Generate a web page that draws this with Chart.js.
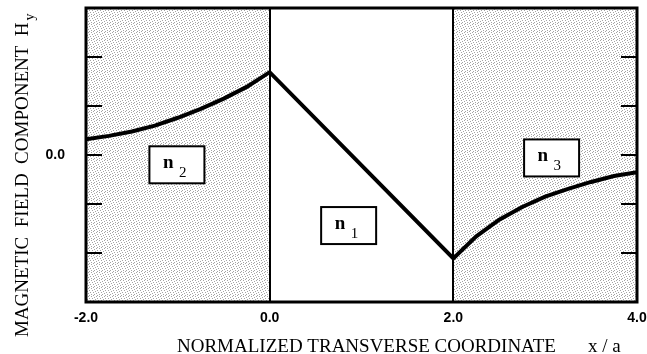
<!DOCTYPE html>
<html>
<head>
<meta charset="utf-8">
<script src="https://cdn.jsdelivr.net/npm/chart.js@4/dist/chart.umd.min.js"></script>
<style>
  html, body { margin: 0; padding: 0; background: #fff; }
  #wrap { width: 647px; height: 354px; }
</style>
</head>
<body>
<div id="wrap"><canvas id="field"></canvas></div>
<script>
// Hy across the three-layer slab guide (x in units of a)
const xPos = [-2.0, -1.75, -1.5, -1.25, -1.0, -0.75, -0.5, -0.25, 0.0,
              2.0, 2.25, 2.5, 2.75, 3.0, 3.25, 3.5, 3.75, 4.0];
const hyValues = [0.32, 0.39, 0.48, 0.60, 0.76, 0.94, 1.15, 1.39, 1.69,
                  -2.11, -1.66, -1.32, -1.06, -0.85, -0.69, -0.55, -0.43, -0.35];

const xTicks = [-2, 0, 2, 4];
const yTicks = [-2, -1, 0, 1, 2];
const yLabelled = [0];

// layer boundaries and which layers are claddings (shaded)
const interfaces = [0, 2];
const claddings = [[-2, 0], [2, 4]];
const layerNames = ['2', '1', '3'];   // subscript of n
const layerSpots = [[-1.01, -0.2], [0.86, -1.44], [3.07, -0.06]];

const serif = '"Liberation Serif", "Times New Roman", serif';
const sans = '"Liberation Sans", Arial, sans-serif';

// fine grey stipple like the printed screen tone
function makeStipple(ctx) {
  const dots = [[0, 0], [3, 0], [6, 1], [1, 2], [4, 2], [7, 3], [2, 4], [5, 4],
                [0, 5], [3, 6], [6, 6], [1, 7], [5, 7]];
  const c = document.createElement('canvas');
  c.width = 8; c.height = 8;
  const g = c.getContext('2d');
  g.fillStyle = '#fff';
  g.fillRect(0, 0, 8, 8);
  g.fillStyle = '#a4a4a4';
  dots.forEach(([px, py]) => g.fillRect(px, py, 1, 1));
  return ctx.createPattern(c, 'repeat');
}

// keep the plot frame at fixed margins, no room reserved for label overhang
const noOverhang = s => {
  s.paddingTop = 0; s.paddingBottom = 0;
  s.paddingLeft = 0; s.paddingRight = 0;
};

const paperPlot = {
  id: 'paperPlot',
  beforeDatasetsDraw(chart) {
    const { ctx, chartArea: a, scales: { x, y } } = chart;
    ctx.save();

    ctx.fillStyle = makeStipple(ctx);
    claddings.forEach(([from, to]) => {
      const l = x.getPixelForValue(from), r = x.getPixelForValue(to);
      ctx.fillRect(l, a.top, r - l, a.bottom - a.top);
    });

    ctx.strokeStyle = '#000';
    ctx.lineWidth = 2;
    interfaces.forEach(v => {
      const px = Math.round(x.getPixelForValue(v));
      ctx.beginPath();
      ctx.moveTo(px, a.top);
      ctx.lineTo(px, a.bottom);
      ctx.stroke();
    });

    // inward ticks on both vertical edges
    yTicks.forEach(v => {
      const py = Math.round(y.getPixelForValue(v));
      ctx.beginPath();
      ctx.moveTo(a.left, py); ctx.lineTo(a.left + 16, py);
      ctx.moveTo(a.right, py); ctx.lineTo(a.right - 16, py);
      ctx.stroke();
    });

    // refractive index boxes
    layerSpots.forEach(([vx, vy], i) => {
      const cx = x.getPixelForValue(vx), cy = y.getPixelForValue(vy);
      const w = 55, h = 37;
      ctx.fillStyle = '#fff';
      ctx.fillRect(cx - w / 2, cy - h / 2, w, h);
      ctx.lineWidth = 2;
      ctx.strokeRect(cx - w / 2, cy - h / 2, w, h);
      ctx.fillStyle = '#000';
      ctx.textBaseline = 'alphabetic';
      ctx.textAlign = 'left';
      ctx.font = 'bold 19px ' + serif;
      ctx.fillText('n', cx - 14, cy + 3);
      ctx.font = '15px ' + serif;
      ctx.fillText(layerNames[i], cx + 2, cy + 12);
    });
    ctx.restore();
  },
  afterDatasetsDraw(chart) {
    const { ctx, chartArea: a } = chart;
    ctx.save();
    ctx.strokeStyle = '#000';
    ctx.lineWidth = 3;
    ctx.strokeRect(a.left, a.top, a.right - a.left, a.bottom - a.top);
    ctx.restore();
  },
  afterDraw(chart) {
    const { ctx } = chart;
    ctx.save();
    ctx.fillStyle = '#000';
    ctx.textBaseline = 'alphabetic';

    // x title
    ctx.textAlign = 'left';
    ctx.font = '19px ' + serif;
    ctx.fillText('NORMALIZED TRANSVERSE COORDINATE', 177, 352, 382);
    ctx.fillText('x / a', 588, 352);

    // y title, rotated, with subscript y
    ctx.translate(28, 337);
    ctx.rotate(-Math.PI / 2);
    const yTitle = 'MAGNETIC  FIELD  COMPONENT  H';
    ctx.font = '19px ' + serif;
    const w = Math.min(ctx.measureText(yTitle).width, 318);
    ctx.fillText(yTitle, 0, 0, 318);
    ctx.font = '14px ' + serif;
    ctx.fillText('y', w + 2, 6);
    ctx.restore();
  }
};

new Chart(document.getElementById('field'), {
  type: 'line',
  data: {
    datasets: [{
      data: xPos.map((v, i) => ({ x: v, y: hyValues[i] })),
      borderColor: '#000',
      borderWidth: 4,
      borderJoinStyle: 'miter',
      pointRadius: 0,
      tension: 0,
      fill: false
    }]
  },
  options: {
    responsive: true,
    maintainAspectRatio: false,
    animation: false,
    layout: { padding: { top: 8, right: 10, left: 0, bottom: 0 } },
    plugins: { legend: { display: false }, tooltip: { enabled: false } },
    scales: {
      x: {
        type: 'linear',
        min: -2, max: 4,
        afterBuildTicks: s => { s.ticks = xTicks.map(v => ({ value: v })); },
        afterFit: s => { s.height = 52; noOverhang(s); },
        grid: { display: false, drawTicks: false },
        border: { display: false },
        ticks: {
          color: '#000',
          padding: 8,
          maxRotation: 0,
          font: { family: sans, size: 14, weight: 'bold' },
          callback: v => v.toFixed(1)
        }
      },
      y: {
        type: 'linear',
        min: -3, max: 3,
        afterBuildTicks: s => { s.ticks = yTicks.map(v => ({ value: v })); },
        afterFit: s => { s.width = 86; noOverhang(s); },
        grid: { display: false, drawTicks: false },
        border: { display: false },
        ticks: {
          color: '#000',
          padding: 21,
          font: { family: sans, size: 14, weight: 'bold' },
          callback: v => yLabelled.includes(v) ? v.toFixed(1) : ''
        }
      }
    }
  },
  plugins: [paperPlot]
});
</script>
</body>
</html>
